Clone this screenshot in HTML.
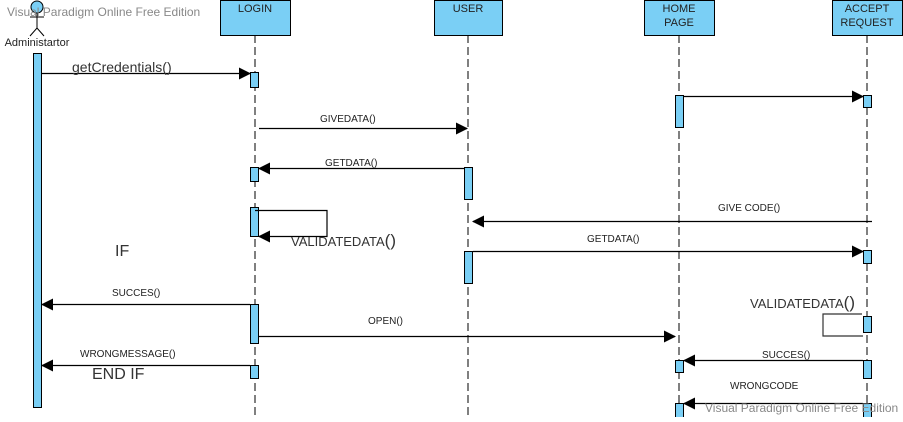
<!DOCTYPE html>
<html><head><style>
body{margin:0;background:#fff;width:903px;height:417px;overflow:hidden}
</style></head><body>
<svg width="903" height="417" xmlns="http://www.w3.org/2000/svg" font-family="Liberation Sans, sans-serif">
<defs><marker id="a" markerWidth="12" markerHeight="12" refX="11" refY="6" orient="auto" markerUnits="userSpaceOnUse"><path d="M0,0 L12,6 L0,12 z" fill="#000"/></marker></defs>
<g stroke="#000" stroke-dasharray="8,4" stroke-width="1">
<line x1="255" y1="35" x2="255" y2="417"/><line x1="468" y1="35" x2="468" y2="417"/>
<line x1="679" y1="35" x2="679" y2="417"/><line x1="867" y1="35" x2="867" y2="417"/>
</g>
<g fill="#7acff5" stroke="#000" stroke-width="1">
<rect x="220.5" y="0.5" width="70" height="35"/><rect x="434.5" y="0.5" width="68" height="35"/>
<rect x="644.5" y="0.5" width="70" height="35"/><rect x="832.5" y="0.5" width="70" height="35"/>
<rect x="33.5" y="53.5" width="8" height="354"/>
<rect x="250.5" y="72.5" width="8" height="15"/><rect x="250.5" y="167.5" width="8" height="14"/>
<rect x="250.5" y="207.5" width="8" height="29"/><rect x="250.5" y="304.5" width="8" height="39"/>
<rect x="250.5" y="365.5" width="8" height="13"/>
<rect x="464.5" y="167.5" width="8" height="32"/><rect x="464.5" y="251.5" width="8" height="32"/>
<rect x="675.5" y="95.5" width="8" height="32"/><rect x="675.5" y="360.5" width="8" height="12"/>
<rect x="675.5" y="403.5" width="8" height="14"/>
<rect x="863.5" y="95.5" width="8" height="12"/><rect x="863.5" y="250.5" width="8" height="13"/>
<rect x="863.5" y="316.5" width="8" height="16"/><rect x="863.5" y="360.5" width="8" height="18"/>
<rect x="863.5" y="403.5" width="8" height="14"/>
<circle cx="37" cy="7" r="6"/>
</g>
<g stroke="#000" fill="none"><line x1="37" y1="13" x2="37" y2="28"/><line x1="30" y1="17" x2="44" y2="17"/><path d="M30,36 L37,28 L44,36"/></g>
<g stroke="#000" stroke-width="1.2" fill="none" marker-end="url(#a)">
<line x1="42" y1="73.5" x2="250" y2="73.5"/>
<line x1="684" y1="96.5" x2="863" y2="96.5"/>
<line x1="259" y1="128.5" x2="467" y2="128.5"/>
<line x1="464" y1="168.5" x2="259" y2="168.5"/>
<path d="M255,210.5 H327 V236.5 H259"/>
<line x1="872" y1="221.5" x2="473" y2="221.5"/>
<line x1="473" y1="251.5" x2="863" y2="251.5"/>
<line x1="250" y1="304.5" x2="42" y2="304.5"/>
<line x1="259" y1="336.5" x2="675" y2="336.5"/>
<line x1="250" y1="365.5" x2="42" y2="365.5"/>
<line x1="863" y1="360.5" x2="684" y2="360.5"/>
<line x1="863" y1="403.5" x2="684" y2="403.5"/>
</g>
<path d="M862,314 H823 V336 H863" stroke="#333" fill="none" stroke-width="1.2"/>
<g font-size="11" fill="#222" text-anchor="middle">
<text x="255" y="12">LOGIN</text><text x="468" y="12">USER</text>
<text x="679" y="12">HOME</text><text x="679" y="26">PAGE</text>
<text x="867" y="12">ACCEPT</text><text x="867" y="26">REQUEST</text>
<text x="37" y="46">Administartor</text>
</g>
<g font-size="10" fill="#222">
<text x="320" y="122">GIVEDATA()</text><text x="325" y="166">GETDATA()</text>
<text x="718" y="211">GIVE CODE()</text><text x="587" y="242">GETDATA()</text>
<text x="112" y="296">SUCCES()</text><text x="368" y="324">OPEN()</text>
<text x="80" y="357">WRONGMESSAGE()</text><text x="762" y="358">SUCCES()</text>
<text x="730" y="389">WRONGCODE</text>
</g>
<g fill="#333">
<text x="72" y="72" font-size="14">getCredentials()</text>
<text x="291" y="246" font-size="13">VALIDATEDATA<tspan font-size="17">()</tspan></text>
<text x="750" y="308" font-size="13">VALIDATEDATA<tspan font-size="17">()</tspan></text>
<text x="115" y="256" font-size="16">IF</text>
<text x="92" y="379" font-size="16">END IF</text>
</g>
<g fill="#888" font-size="12">
<text x="7" y="16">Visual Paradigm Online Free Edition</text>
<text x="705" y="412">Visual Paradigm Online Free Edition</text>
</g>
</svg>
</body></html>
